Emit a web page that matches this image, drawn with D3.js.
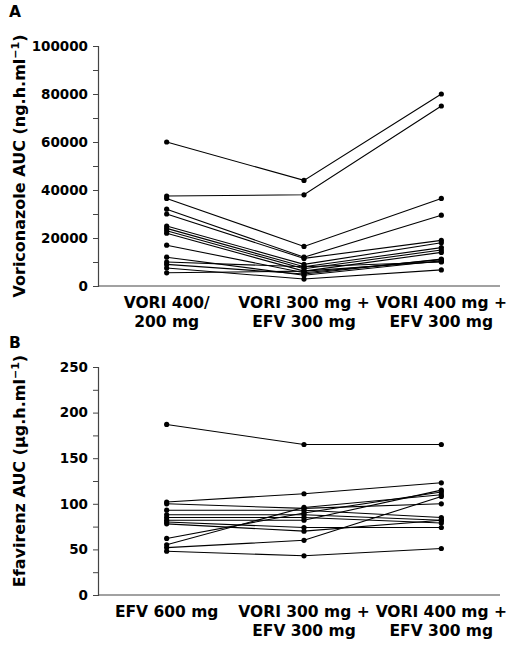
<!DOCTYPE html>
<html><head><meta charset="utf-8">
<script src="https://cdn.jsdelivr.net/npm/d3@7"></script>
<style>
body{margin:0;background:#fff;}
text{font-family:"DejaVu Sans",sans-serif;font-weight:700;}
</style></head>
<body><svg id="c" width="510" height="648"></svg>
<script>
// Panel A: Voriconazole AUC (ng.h.ml-1)
const catsA = [["VORI 400/","200 mg"],["VORI 300 mg +","EFV 300 mg"],["VORI 400 mg +","EFV 300 mg"]];
const subjectsA = [
  [60000, 44000, 80000],
  [37500, 38000, 75000],
  [36500, 16500, 36500],
  [32000, 12000, 29500],
  [30000, 11500, 19000],
  [25000, 9000, 18000],
  [24000, 8000, 16000],
  [23000, 7200, 15000],
  [22000, 6200, 14000],
  [17000, 5500, 11000],
  [12000, 4500, 10500],
  [10000, 8000, 10000],
  [9000, 5000, 11200],
  [7500, 2900, 6700],
  [5500, 6200, 10200]
];
const ticksA = [0, 20000, 40000, 60000, 80000, 100000];
const minorA = [10000, 30000, 50000, 70000, 90000];

// Panel B: Efavirenz AUC (µg.h.ml-1)
const catsB = [["EFV 600 mg"],["VORI 300 mg +","EFV 300 mg"],["VORI 400 mg +","EFV 300 mg"]];
const subjectsB = [
  [187, 165, 165],
  [102, 111, 123],
  [100, 95, 100],
  [93, 93, 85],
  [88, 88, 82],
  [85, 85, 79],
  [82, 82, 115],
  [80, 74, 74],
  [78, 70, 82],
  [62, 90, 113],
  [55, 96, 110],
  [52, 60, 108],
  [48, 43, 51]
];
const ticksB = [0, 50, 100, 150, 200, 250];
const minorB = [25, 75, 125, 175, 225];

const svg = d3.select("#c");
const axisColor = "#444";
const FONT = "'DejaVu Sans', sans-serif";

function panel(cfg){
  const g = svg.append("g");
  const idx = cfg.cats.map((d,i)=>i);
  const x = d3.scalePoint().domain(idx).range([98, 510]).padding(0.5);
  const y = d3.scaleLinear().domain([0, cfg.max]).range([cfg.y0, cfg.y1]);

  // y axis
  const ya = g.append("g").attr("transform","translate(98,0)")
    .call(d3.axisLeft(y).tickValues(cfg.ticks).tickSize(5).tickPadding(5).tickFormat(d3.format("d")));
  ya.select(".domain").attr("stroke", axisColor).attr("stroke-width",1.2);
  ya.selectAll(".tick line").attr("stroke", axisColor);
  ya.selectAll(".tick text").attr("font-size", 13.5).attr("font-weight",700).attr("fill","#000")
    .attr("font-family",FONT);
  g.append("g").attr("transform","translate(98,0)")
    .call(d3.axisLeft(y).tickValues(cfg.minor).tickSize(5).tickFormat(""))
    .call(s=>{s.select(".domain").remove(); s.selectAll(".tick line").attr("stroke", axisColor);});

  // x axis line
  g.append("line").attr("x1",98).attr("x2",500).attr("y1",y(0)).attr("y2",y(0))
    .attr("stroke",axisColor).attr("stroke-width",1.2);

  // x labels (one text element per line)
  cfg.cats.forEach((lines,i)=>{
    lines.forEach((l,j)=>{
      g.append("text").attr("text-anchor","middle").attr("font-size",15.5)
        .attr("x", x(i)).attr("y", y(0)+22+j*19).text(l);
    });
  });

  // lines
  const line = d3.line().x((d,i)=>x(i)).y(d=>y(d));
  g.selectAll("path.s").data(cfg.data).join("path").attr("class","s")
    .attr("d", line).attr("fill","none").attr("stroke","#000").attr("stroke-width",1.1);
  cfg.data.forEach(s=>{
    g.selectAll(null).data(s).join("circle")
      .attr("cx",(d,i)=>x(i)).attr("cy",d=>y(d)).attr("r",2.6).attr("fill","#000");
  });

  // y title
  const cy = (cfg.y0+cfg.y1)/2 + cfg.titleDy;
  const tt = g.append("text").attr("transform",`translate(${cfg.titleX},${cy}) rotate(-90)`)
    .attr("text-anchor","middle").attr("font-size",16);
  cfg.title(tt);

  // panel letter
  g.append("text").attr("x",9).attr("y",cfg.letterY).attr("font-size",15.5).text(cfg.letter);
}

panel({cats:catsA, data:subjectsA, max:100000, y0:286, y1:46, ticks:ticksA, minor:minorA,
  titleX:25, titleDy:0, letter:"A", letterY:17,
  title:t=>{t.append("tspan").text("Voriconazole AUC (ng.h.ml");
    t.append("tspan").attr("dy",-6).attr("font-size",11).text("\u22121");
    t.append("tspan").attr("dy",6).text(")");}});

panel({cats:catsB, data:subjectsB, max:250, y0:595, y1:367, ticks:ticksB, minor:minorB,
  titleX:25, titleDy:-10, letter:"B", letterY:348,
  title:t=>{t.append("tspan").text("Efavirenz  AUC (\u00b5g.h.ml");
    t.append("tspan").attr("dy",-6).attr("font-size",11).text("\u22121");
    t.append("tspan").attr("dy",6).text(")");}});
</script></body></html>
